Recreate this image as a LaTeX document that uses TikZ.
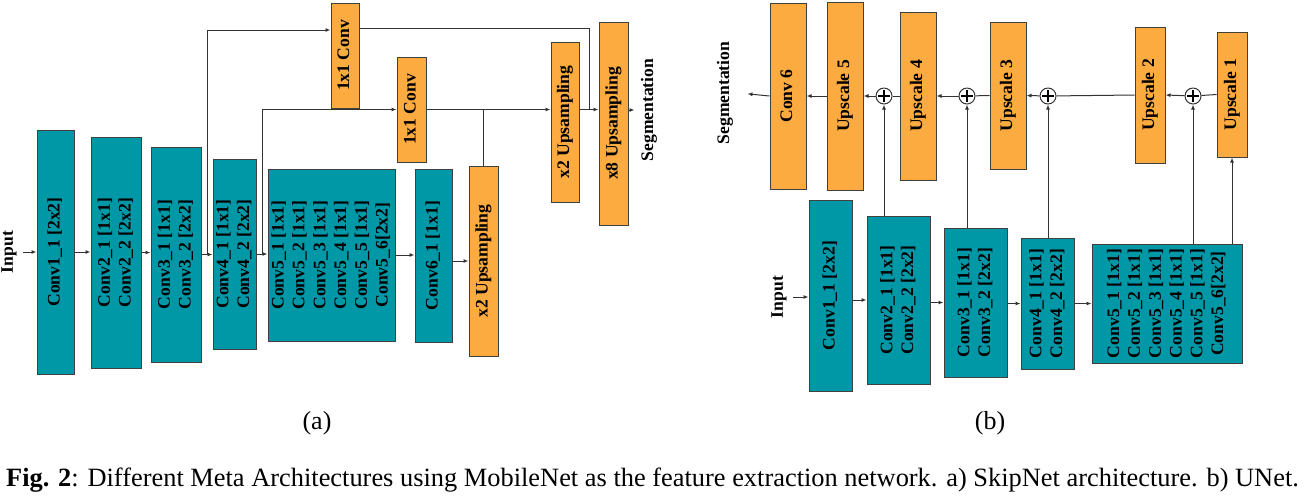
\documentclass[tikz,border=0pt]{standalone}
\usepackage{fontspec}
\setmainfont{Liberation Serif}
\usepackage{graphicx}
\usepackage{tikz}
\usetikzlibrary{arrows.meta, calc}
\definecolor{netteal}{HTML}{0097A7}
\definecolor{netorange}{HTML}{FCAB40}
\definecolor{netedge}{HTML}{404040}
\definecolor{netline}{HTML}{333333}
\newcommand{\vlabel}[1]{\rotatebox{90}{\begin{tabular}{@{}c@{}}#1\end{tabular}}}

\begin{document}
\begin{tikzpicture}[x=0.5pt, y=-0.5pt,
    box/.style={rectangle, draw=netedge, line width=0.5pt, fill=#1, inner sep=0pt, font=\fontsize{8.8}{10.4}\selectfont\bfseries},
    tag/.style={inner sep=3pt, font=\fontsize{8.8}{10.4}\selectfont\bfseries},
    link/.style={draw=netline, line width=0.5pt},
    arrow/.style={link, -{Latex[length=2.5pt, width=2pt]}},
    sumnode/.style={circle, draw=netline, line width=0.5pt, fill=white, minimum size=8pt, inner sep=0pt,
        path picture={\draw[line width=1.1pt, black]
            ([xshift=-3pt]path picture bounding box.center) -- ([xshift=3pt]path picture bounding box.center)
            ([yshift=-3pt]path picture bounding box.center) -- ([yshift=3pt]path picture bounding box.center);}}
]
\useasboundingbox (0,0) rectangle (1304,495);

% (a) SkipNet
\node[tag] (inA) at (9,252) {\rotatebox{90}{Input}};
\node[box=netteal, minimum width=18.5pt, minimum height=122pt] (c1a) at (55.5,252) {\vlabel{Conv1\_1 [2x2]}};
\node[box=netteal, minimum width=25pt, minimum height=115.5pt] (c2a) at (116,252.5) {\vlabel{Conv2\_1 [1x1]\\Conv2\_2 [2x2]}};
\node[box=netteal, minimum width=25pt, minimum height=107.5pt] (c3a) at (176,254.5) {\vlabel{Conv3\_1 [1x1]\\Conv3\_2 [2x2]}};
\node[box=netteal, minimum width=21.5pt, minimum height=95pt] (c4a) at (234.5,254) {\vlabel{Conv4\_1 [1x1]\\Conv4\_2 [2x2]}};
\node[box=netteal, minimum width=63.5pt, minimum height=86pt] (c5a) at (331.5,255) {\vlabel{Conv5\_1 [1x1]\\Conv5\_2 [1x1]\\Conv5\_3 [1x1]\\Conv5\_4 [1x1]\\Conv5\_5 [1x1]\\Conv5\_6[2x2]}};
\node[box=netteal, minimum width=18.5pt, minimum height=86.5pt] (c6a) at (433.5,255.5) {\vlabel{Conv6\_1 [1x1]}};
\node[box=netorange, minimum width=14.5pt, minimum height=95pt] (upA) at (483.5,261) {\vlabel{x2 Upsampling}};
\node[box=netorange, minimum width=14pt, minimum height=52.5pt] (convA) at (345,55.5) {\vlabel{1x1 Conv}};
\node[box=netorange, minimum width=14.5pt, minimum height=52.5pt] (convB) at (411.5,109.5) {\vlabel{1x1 Conv}};
\node[box=netorange, minimum width=14pt, minimum height=80pt] (upB) at (565,122) {\vlabel{x2 Upsampling}};
\node[box=netorange, minimum width=14.5pt, minimum height=101.5pt] (up8) at (613.5,123.5) {\vlabel{x8 Upsampling}};
\node[tag] (segA) at (649,110) {\rotatebox{90}{Segmentation}};

\draw[arrow] (inA.east) -- (c1a.west |- inA.east);
\draw[arrow] (c1a.east) -- (c2a.west |- c1a.east);
\draw[arrow] (c2a.east) -- (c3a.west |- c2a.east);
\draw[arrow] (c3a.east) -- (c4a.west |- c3a.east);
\draw[arrow] (c4a.east) -- (c5a.west |- c4a.east);
\draw[arrow] (c5a.east) -- (c6a.west |- c5a.east);
\draw[arrow] (c6a.east |- upA) -- (upA.west);

% skip connections
\coordinate (s1) at ($(c3a.east)!0.5!(c4a.west)$);
\coordinate (s2) at ($(c4a.east)!0.5!(c5a.west)$);
\draw[arrow] (s1) |- ([yshift=12.75pt]convA.west);
\draw[arrow] (s2) |- (convB.west);
\draw[arrow] (convB.east) -- (convB.east -| upB.west);
\draw[link] (upA.north) -- (upA.north |- convB.east);
\coordinate (j1) at ($(upB.east |- convB.east)!0.5!(up8.west |- convB.east)$);
\draw[link] ([yshift=13.75pt]convA.east) -| (j1);
\draw[arrow] (upB.east |- convB.east) -- (up8.west |- convB.east);
\draw[arrow] (up8.east |- segA) -- (segA.west);

\node (labA) at (317,423) {\fontsize{13}{15}\selectfont (a)};

% (b) UNet
\node[tag] (segB) at (725,93) {\rotatebox{90}{Segmentation}};
\node[box=netorange, minimum width=18pt, minimum height=93pt] (cv6) at (788,96) {\vlabel{Conv 6}};
\node[box=netorange, minimum width=18pt, minimum height=94pt] (us5) at (845,96) {\vlabel{Upscale 5}};
\node[sumnode] (pl4) at (884,96) {};
\node[box=netorange, minimum width=18pt, minimum height=84pt] (us4) at (918,96) {\vlabel{Upscale 4}};
\node[sumnode] (pl3) at (967,96) {};
\node[box=netorange, minimum width=18pt, minimum height=73.5pt] (us3) at (1008,95.5) {\vlabel{Upscale 3}};
\node[sumnode] (pl2) at (1048,96) {};
\node[box=netorange, minimum width=15pt, minimum height=68pt] (us2) at (1150,95) {\vlabel{Upscale 2}};
\node[sumnode] (pl1) at (1193,96) {};
\node[box=netorange, minimum width=15pt, minimum height=62.5pt] (us1) at (1232,94.5) {\vlabel{Upscale 1}};

\node[tag] (inB) at (779,297) {\rotatebox{90}{Input}};
\node[box=netteal, minimum width=21.5pt, minimum height=95.5pt] (b1) at (830.5,295.5) {\vlabel{Conv1\_1 [2x2]}};
\node[box=netteal, minimum width=31.5pt, minimum height=84pt] (b2) at (898.5,300) {\vlabel{Conv2\_1 [1x1]\\Conv2\_2 [2x2]}};
\node[box=netteal, minimum width=31.5pt, minimum height=74.5pt] (b3) at (975.5,302.5) {\vlabel{Conv3\_1 [1x1]\\Conv3\_2 [2x2]}};
\node[box=netteal, minimum width=26.5pt, minimum height=65.5pt] (b4) at (1047.5,303.5) {\vlabel{Conv4\_1 [1x1]\\Conv4\_2 [2x2]}};
\node[box=netteal, minimum width=75pt, minimum height=59.5pt] (b5) at (1167,303.5) {\vlabel{Conv5\_1 [1x1]\\Conv5\_2 [1x1]\\Conv5\_3 [1x1]\\Conv5\_4 [1x1]\\Conv5\_5 [1x1]\\Conv5\_6[2x2]}};

\draw[link] (us1.west) -- (pl1);
\draw[arrow] (pl1) -- (us2.east);
\draw[link] (us2.west) -- (pl2);
\draw[arrow] (pl2) -- (us3.east);
\draw[link] (us3.west) -- (pl3);
\draw[arrow] (pl3) -- (us4.east);
\draw[link] (us4.west) -- (pl4);
\draw[arrow] (pl4) -- (us5.east);
\draw[arrow] (us5.west) -- (cv6.east);
\draw[arrow, shorten >=4pt] (cv6.west) -- (segB.east);

\draw[arrow] (inB.east) -- (b1.west |- inB.east);
\draw[arrow] (b1.east |- b2) -- (b2.west);
\draw[arrow] (b2.east |- b3) -- (b3.west);
\draw[arrow] (b3.east |- b4) -- (b4.west);
\draw[arrow] (b4.east |- b5) -- (b5.west);

\draw[arrow] (pl4 |- b2.north) -- (pl4);
\draw[arrow] (pl3 |- b3.north) -- (pl3);
\draw[arrow] (pl2 |- b4.north) -- (pl2);
\draw[arrow] (pl1 |- b5.north) -- (pl1);
\draw[arrow] (us1 |- b5.north) -- (us1.south);

\node (labB) at (990,423) {\fontsize{13}{15}\selectfont (b)};

% Caption
\node[anchor=base] (capt) at (652.5,486.5) {\fontsize{13.2}{15}\selectfont\textbf{Fig. 2}: Different Meta Architectures using MobileNet as the feature extraction network. a) SkipNet architecture. b) UNet.};

\end{tikzpicture}
\end{document}
